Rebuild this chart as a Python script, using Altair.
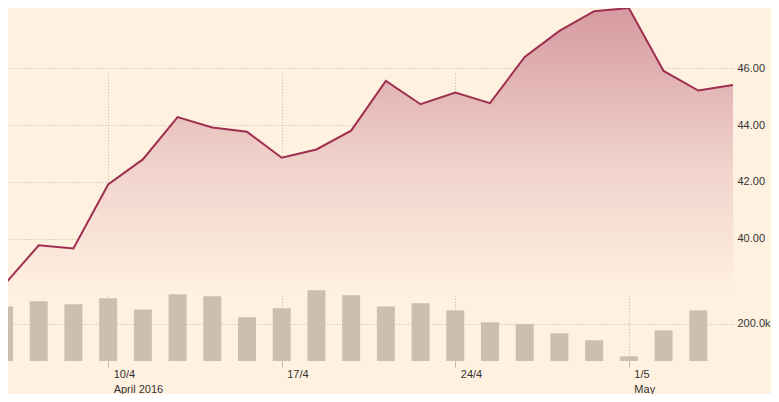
import altair as alt
import pandas as pd

# Trading days (Sun-Thu market)
dates = ["2016-04-05", "2016-04-06", "2016-04-07", "2016-04-10", "2016-04-11",
         "2016-04-12", "2016-04-13", "2016-04-14", "2016-04-17", "2016-04-18",
         "2016-04-19", "2016-04-20", "2016-04-21", "2016-04-24", "2016-04-25",
         "2016-04-26", "2016-04-27", "2016-04-28", "2016-05-01", "2016-05-02",
         "2016-05-03", "2016-05-04"]
prices = [38.37, 39.77, 39.66, 41.91, 42.79, 44.28, 43.91, 43.76, 42.85, 43.14,
          43.80, 45.55, 44.73, 45.14, 44.77, 46.39, 47.31, 48.00, 48.11, 45.90,
          45.21, 45.41]
volumes = [292000, 319000, 303000, 335000, 276000, 357000, 346000, 234000, 282000,
           378000, 351000, 292000, 309000, 271000, 207000, 198000, 148000, 111000,
           25000, 164000, 271000, None]

tick_dates = ["2016-04-10", "2016-04-17", "2016-04-24", "2016-05-01"]
tick_days = ["10/4", "17/4", "24/4", "1/5"]
tick_months = ["April 2016", "", "", "May"]

price_ticks = [40, 42, 44, 46]
volume_ticks = [200000]

df = pd.DataFrame({"date": dates, "price": prices, "volume": volumes})
df["i"] = range(len(df))

# label expression for the date axis
tick_idx = [dates.index(d) for d in tick_dates]
expr = "''"
for idx, day, mon in reversed(list(zip(tick_idx, tick_days, tick_months))):
    lab = f"['{day}', '{mon}']" if mon else f"'{day}'"
    expr = f"datum.value == {idx} ? {lab} : ({expr})"

W, H = 725, 353
step = 34.714
x0 = 4 / step
FONT = "Liberation Sans"
GRID = "#c2b6aa"
BG = "#fff1e0"

x_enc = alt.X(
    "i:Q",
    scale=alt.Scale(domain=[x0, len(dates) - 1], nice=False, zero=False, padding=0),
    axis=alt.Axis(
        title=None, values=tick_idx, labelExpr=expr, grid=True, gridColor=GRID,
        gridDash=[1, 2], domain=False, tickSize=6, tickColor=GRID,
        labelAlign="left", labelBaseline="top", labelOffset=5, labelPadding=1,
        labelLineHeight=15, labelFont=FONT, labelFontSize=11, labelColor="#333333",
        labelFlush=False, labelOverlap=False,
    ),
)

# price scale: 40 at plot y 230.8, 28.45 px per unit
def ypx(p):
    return 230.8 - (p - 40) * 28.45

p_lo, p_hi = 38.0, 48.11
price_scale = alt.Scale(domain=[p_lo, p_hi], range=[ypx(p_lo), ypx(p_hi)],
                        nice=False, zero=False)

price_axis = alt.Axis(
    title=None, orient="right", values=price_ticks, format=".2f", grid=True,
    gridColor=GRID, gridDash=[1, 2], domain=False, ticks=False, labelPadding=4,
    labelFont=FONT, labelFontSize=11, labelColor="#333333",
    labelOverlap=False, labelFlush=False,
)

gradient = alt.Gradient(
    gradient="linear",
    stops=[alt.GradientStop(color="#d69aa1", offset=0),
           alt.GradientStop(color="#f1d3cc", offset=0.55),
           alt.GradientStop(color=BG, offset=1)],
    x1=0, x2=0, y1=0, y2=1,
)

area = alt.Chart(df).mark_area(clip=True, color=gradient).encode(
    x=x_enc,
    y=alt.Y("price:Q", scale=price_scale, axis=price_axis),
    y2=alt.datum(p_lo),
)
line = alt.Chart(df).mark_line(clip=True, color="#9e2f50", strokeWidth=2).encode(
    x=x_enc,
    y=alt.Y("price:Q", scale=price_scale, axis=price_axis),
)

vol_scale = alt.Scale(domain=[0, 400000], range=[H, H - 74.8], nice=False, zero=False)
vol_axis = alt.Axis(
    title=None, orient="right", values=volume_ticks,
    labelExpr="format(datum.value / 1000, '.1f') + 'k'", grid=True,
    gridColor=GRID, gridDash=[1, 2], domain=False, ticks=False, labelPadding=4,
    labelFont=FONT, labelFontSize=11, labelColor="#333333",
    labelOverlap=False, labelFlush=False,
)
bars = alt.Chart(df).mark_bar(clip=True, color="#cebead", size=18).encode(
    x=x_enc,
    y=alt.Y("volume:Q", scale=vol_scale, axis=vol_axis),
)

chart = alt.layer(alt.layer(area, line), bars).resolve_scale(
    y="independent"
).properties(
    width=W, height=H,
    padding={"left": 0, "top": 0, "right": 38, "bottom": 33},
    autosize=alt.AutoSizeParams(type="none"),
    background=BG,
).configure_view(stroke="transparent")

chart.save("out.html", embed_options={"renderer": "svg", "actions": False})
